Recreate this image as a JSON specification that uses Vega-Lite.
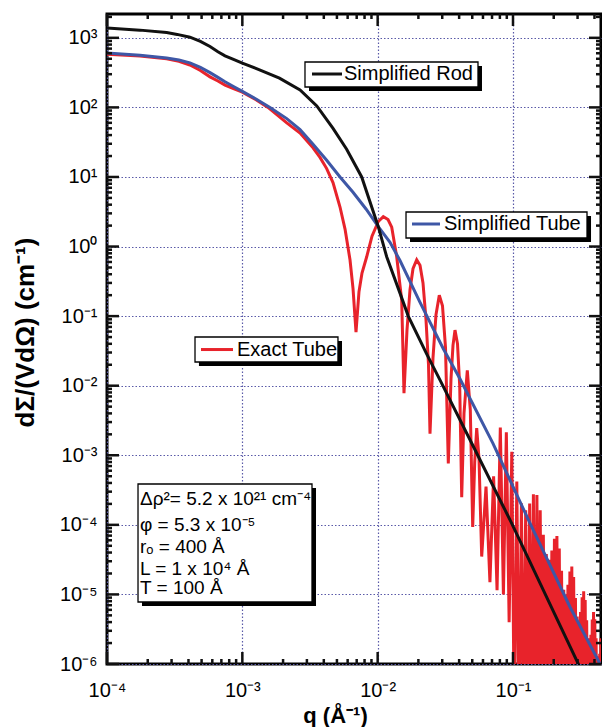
{
  "$schema": "https://vega.github.io/schema/vega-lite/v6.json",
  "width": 494,
  "height": 650,
  "autosize": "none",
  "padding": {"left": 107, "top": 14, "right": 1, "bottom": 63},
  "config": {
    "font": "Liberation Sans",
    "view": {"stroke": "black", "strokeWidth": 3},
    "axis": {"labelFont": "Liberation Sans", "titleFont": "Liberation Sans", "labelColor": "black", "titleColor": "black", "domain": false}
  },
  "datasets": {
    "exact": [
      {"q":0.0001,"I":582},{"q":0.0001754,"I":550},{"q":0.000276,"I":500},{"q":0.00034,"I":460},{"q":0.00041,"I":407},{"q":0.00049,"I":340},{"q":0.000577,"I":275},{"q":0.00066,"I":240},{"q":0.000745,"I":209},{"q":0.00086,"I":186},{"q":0.001,"I":166},{"q":0.001262,"I":129},{"q":0.001548,"I":100},{"q":0.00213,"I":60},{"q":0.00267,"I":42.7},{"q":0.00333,"I":26.3},{"q":0.003749,"I":19.1},{"q":0.0042,"I":13.2},{"q":0.004677,"I":8.3},{"q":0.00527,"I":3.7},{"q":0.00574,"I":1.78},{"q":0.006246,"I":0.645},{"q":0.006574,"I":0.25},{"q":0.006918,"I":0.059},{"q":0.007278,"I":0.224},{"q":0.00766,"I":0.417},{"q":0.008299,"I":0.713},{"q":0.009082,"I":1.41},{"q":0.010109,"I":2.29},{"q":0.011008,"I":2.69},{"q":0.011925,"I":2.45},{"q":0.012703,"I":1.9},{"q":0.013827,"I":0.713},{"q":0.015051,"I":0.17},{"q":0.015652,"I":0.0078},{"q":0.016472,"I":0.063},{"q":0.017338,"I":0.24},{"q":0.018243,"I":0.48},{"q":0.019431,"I":0.645},{"q":0.020555,"I":0.537},{"q":0.021627,"I":0.3},{"q":0.02276,"I":0.089},{"q":0.02375,"I":0.02},{"q":0.024364,"I":0.00204},{"q":0.025635,"I":0.025},{"q":0.026977,"I":0.105},{"q":0.028535,"I":0.2},{"q":0.03013,"I":0.141},{"q":0.031712,"I":0.0355},{"q":0.033266,"I":0.00076},{"q":0.034826,"I":0.0126},{"q":0.036032,"I":0.038},{"q":0.037281,"I":0.063},{"q":0.038905,"I":0.04},{"q":0.040385,"I":0.01},{"q":0.041783,"I":0.00025},{"q":0.043451,"I":0.004},{"q":0.045962,"I":0.0166},{"q":0.04837,"I":0.0045},{"q":0.050382,"I":9.3e-5},{"q":0.052128,"I":0.00079},{"q":0.053934,"I":0.00245},{"q":0.05609,"I":0.00089},{"q":0.05872,"I":3.5e-5},{"q":0.0632,"I":0.000355},{"q":0.06755,"I":1.5e-5},{"q":0.0719,"I":0.0005},{"q":0.07625,"I":1.15e-5},{"q":0.0806,"I":0.0025},{"q":0.08495,"I":1e-5},{"q":0.0893,"I":0.00214},{"q":0.09365,"I":4e-6},{"q":0.098,"I":0.00112},{"q":0.10235,"I":1e-7},{"q":0.1067,"I":0.00042},{"q":0.11105,"I":1e-7},{"q":0.1154,"I":0.000204},{"q":0.11975,"I":1e-7},{"q":0.1241,"I":0.000162},{"q":0.12845,"I":1e-7},{"q":0.1328,"I":0.000202},{"q":0.13715,"I":1e-7},{"q":0.1415,"I":0.000275},{"q":0.14585,"I":1e-7},{"q":0.1502,"I":0.000269},{"q":0.15455,"I":1e-7},{"q":0.1589,"I":0.000162},{"q":0.16325,"I":1e-7},{"q":0.1676,"I":7.2e-5},{"q":0.17195,"I":1e-7},{"q":0.1763,"I":3.8e-5},{"q":0.18065,"I":1e-7},{"q":0.185,"I":3.16e-5},{"q":0.18935,"I":1e-7},{"q":0.1937,"I":4.27e-5},{"q":0.19805,"I":1e-7},{"q":0.2024,"I":6.3e-5},{"q":0.20675,"I":1e-7},{"q":0.2111,"I":6.9e-5},{"q":0.21545,"I":1e-7},{"q":0.2198,"I":4.57e-5},{"q":0.22415,"I":1e-7},{"q":0.2285,"I":2.19e-5},{"q":0.23285,"I":1e-7},{"q":0.2372,"I":1.17e-5},{"q":0.24155,"I":1e-7},{"q":0.2459,"I":1e-5},{"q":0.25025,"I":1e-7},{"q":0.2546,"I":1.38e-5},{"q":0.25895,"I":1e-7},{"q":0.2633,"I":2.14e-5},{"q":0.26765,"I":1e-7},{"q":0.272,"I":2.51e-5},{"q":0.27635,"I":1e-7},{"q":0.2807,"I":1.78e-5},{"q":0.28505,"I":1e-7},{"q":0.2894,"I":8.9e-6},{"q":0.29375,"I":1e-7},{"q":0.2981,"I":4.8e-6},{"q":0.30245,"I":1e-7},{"q":0.3068,"I":4.07e-6},{"q":0.31115,"I":1e-7},{"q":0.3155,"I":5.6e-6},{"q":0.31985,"I":1e-7},{"q":0.3242,"I":9.1e-6},{"q":0.32855,"I":1e-7},{"q":0.3329,"I":1.11e-5},{"q":0.33725,"I":1e-7},{"q":0.3416,"I":8.3e-6},{"q":0.34595,"I":1e-7},{"q":0.3503,"I":4.27e-6},{"q":0.35465,"I":1e-7},{"q":0.359,"I":2.34e-6},{"q":0.36335,"I":1e-7},{"q":0.3677,"I":1.95e-6},{"q":0.37205,"I":1e-7},{"q":0.3764,"I":2.63e-6},{"q":0.38075,"I":1e-7},{"q":0.3851,"I":4.37e-6},{"q":0.38945,"I":1e-7},{"q":0.3938,"I":5.6e-6},{"q":0.39815,"I":1e-7},{"q":0.4025,"I":4.4e-6},{"q":0.40685,"I":1e-7},{"q":0.4112,"I":2.34e-6},{"q":0.41555,"I":1e-7},{"q":0.4199,"I":1.29e-6},{"q":0.42425,"I":1e-7},{"q":0.4286,"I":1.05e-6},{"q":0.43295,"I":1e-7},{"q":0.4373,"I":1.4e-6},{"q":0.44165,"I":1e-7},{"q":0.446,"I":2.34e-6},{"q":0.45035,"I":1e-7}
    ],
    "tube": [
      {"q":0.0001,"I":603},{"q":0.0001754,"I":562},{"q":0.000276,"I":513},{"q":0.00034,"I":480},{"q":0.00041,"I":437},{"q":0.00049,"I":376},{"q":0.000577,"I":316},{"q":0.00066,"I":270},{"q":0.000745,"I":234},{"q":0.00086,"I":200},{"q":0.001,"I":170},{"q":0.001262,"I":132},{"q":0.001601,"I":100},{"q":0.00213,"I":69},{"q":0.00267,"I":47.9},{"q":0.00333,"I":29.5},{"q":0.0042,"I":17.4},{"q":0.00527,"I":10},{"q":0.006574,"I":6.03},{"q":0.0082,"I":3.47},{"q":0.010109,"I":1.93},{"q":0.01234,"I":1.15},{"q":0.01462,"I":0.63},{"q":0.02056,"I":0.158},{"q":0.03055,"I":0.034},{"q":0.04055,"I":0.0126},{"q":0.0711,"I":0.00148},{"q":0.1337,"I":0.000105},{"q":0.2638,"I":6.6e-6},{"q":0.427,"I":1.12e-6},{"q":0.46,"I":8.3e-7}
    ],
    "rod": [
      {"q":0.0001,"I":1380},{"q":0.0001754,"I":1290},{"q":0.000276,"I":1190},{"q":0.00033,"I":1120},{"q":0.00041,"I":1020},{"q":0.00049,"I":890},{"q":0.000577,"I":750},{"q":0.00066,"I":630},{"q":0.000745,"I":550},{"q":0.00086,"I":490},{"q":0.001,"I":432},{"q":0.00134,"I":347},{"q":0.00188,"I":263},{"q":0.00267,"I":178},{"q":0.00355,"I":105},{"q":0.00468,"I":50},{"q":0.0059,"I":25},{"q":0.00762,"I":10},{"q":0.010109,"I":1.93},{"q":0.01166,"I":0.713},{"q":0.01462,"I":0.214},{"q":0.01683,"I":0.1},{"q":0.0231,"I":0.0282},{"q":0.02891,"I":0.012},{"q":0.05239,"I":0.0012},{"q":0.09782,"I":0.000105},{"q":0.2958,"I":1.12e-6},{"q":0.32,"I":8.1e-7}
    ],
    "boxes": [
      {"box":"rod","x1":0.002904,"x2":0.05513,"y1":449.2,"y2":196.5,"sx1":0.003109,"sx2":0.05901,"sy1":393.6,"sy2":172.1},
      {"box":"tube","x1":0.0162,"x2":0.3523,"y1":3.137,"y2":1.327,"sx1":0.01734,"sx2":0.3772,"sy1":2.748,"sy2":1.162},
      {"box":"exact","x1":0.000447,"x2":0.00509,"y1":0.0501,"y2":0.0219,"sx1":0.000478,"sx2":0.005452,"sy1":0.0439,"sy2":0.0192},
      {"box":"params","x1":0.0001695,"x2":0.003272,"y1":0.0003866,"y2":7.78e-6,"sx1":0.0001814,"sx2":0.003503,"sy1":0.0003385,"sy2":6.82e-6}
    ],
    "keys": [
      {"series":"Simplified Rod","q1":0.003272,"q2":0.005452,"I":302},
      {"series":"Simplified Tube","q1":0.01794,"q2":0.02888,"I":2.109},
      {"series":"Exact Tube","q1":0.000495,"q2":0.000853,"I":0.0331}
    ],
    "legendText": [
      {"q":0.00564,"I":247.6,"text":"Simplified Rod"},
      {"q":0.03092,"I":1.729,"text":"Simplified Tube"},
      {"q":0.000913,"I":0.02673,"text":"Exact Tube"}
    ],
    "paramText": [
      {"q":0.0001753,"I":0.0001929,"text":"Δρ²= 5.2 x 10²¹ cm⁻⁴"},
      {"q":0.0001753,"I":8.16e-5,"text":"φ = 5.3 x 10⁻⁵"},
      {"q":0.0001753,"I":3.94e-5,"text":"rₒ = 400 Å"},
      {"q":0.0001753,"I":1.902e-5,"text":"L  = 1 x 10⁴ Å"},
      {"q":0.0001753,"I":1.014e-5,"text":"T = 100 Å"}
    ],
    "xmajor": [{"v":0.0001},{"v":0.001},{"v":0.01},{"v":0.1}],
    "xminor": [{"v":0.0002},{"v":0.0003},{"v":0.0004},{"v":0.0005},{"v":0.0006},{"v":0.0007},{"v":0.0008},{"v":0.0009},{"v":0.002},{"v":0.003},{"v":0.004},{"v":0.005},{"v":0.006},{"v":0.007},{"v":0.008},{"v":0.009},{"v":0.02},{"v":0.03},{"v":0.04},{"v":0.05},{"v":0.06},{"v":0.07},{"v":0.08},{"v":0.09},{"v":0.2},{"v":0.3},{"v":0.4}],
    "ymajor": [{"v":1e-6},{"v":1e-5},{"v":0.0001},{"v":0.001},{"v":0.01},{"v":0.1},{"v":1},{"v":10},{"v":100},{"v":1000}],
    "yminor": [{"v":2e-6},{"v":3e-6},{"v":4e-6},{"v":5e-6},{"v":6e-6},{"v":7e-6},{"v":8e-6},{"v":9e-6},{"v":2e-5},{"v":3e-5},{"v":4e-5},{"v":5e-5},{"v":6e-5},{"v":7e-5},{"v":8e-5},{"v":9e-5},{"v":0.0002},{"v":0.0003},{"v":0.0004},{"v":0.0005},{"v":0.0006},{"v":0.0007},{"v":0.0008},{"v":0.0009},{"v":0.002},{"v":0.003},{"v":0.004},{"v":0.005},{"v":0.006},{"v":0.007},{"v":0.008},{"v":0.009},{"v":0.02},{"v":0.03},{"v":0.04},{"v":0.05},{"v":0.06},{"v":0.07},{"v":0.08},{"v":0.09},{"v":0.2},{"v":0.3},{"v":0.4},{"v":0.5},{"v":0.6},{"v":0.7},{"v":0.8},{"v":0.9},{"v":2},{"v":3},{"v":4},{"v":5},{"v":6},{"v":7},{"v":8},{"v":9},{"v":20},{"v":30},{"v":40},{"v":50},{"v":60},{"v":70},{"v":80},{"v":90},{"v":200},{"v":300},{"v":400},{"v":500},{"v":600},{"v":700},{"v":800},{"v":900},{"v":2000}]
  },
  "layer": [
    {
      "data": {"name": "exact"},
      "mark": {"type": "line", "color": "#e8232b", "strokeWidth": 3, "clip": true},
      "encoding": {
        "x": {"field": "q", "type": "quantitative", "scale": {"type": "log", "domain": [0.0001, 0.447], "nice": false},
          "axis": {
            "orient": "bottom",
            "values": [0.0001, 0.001, 0.01, 0.1],
            "labelExpr": "['10⁻⁴','10⁻³','10⁻²','10⁻¹'][round(log(datum.value)/LN10)+4]",
            "labelFontSize": 20, "labelOverlap": false, "labelFlush": false, "labelBound": false,
            "labelPadding": 16, "labelBaseline": "top", "ticks": false,
            "grid": true, "gridColor": "#5a5aa8", "gridDash": [1.5, 2], "gridWidth": 1.2,
            "title": "q (Å⁻¹)", "titleFontSize": 22, "titleFontWeight": "bold",
            "titleX": 228, "titleY": 58, "titleBaseline": "alphabetic", "titleAlign": "center"
          }
        },
        "y": {"field": "I", "type": "quantitative", "scale": {"type": "log", "domain": [1e-6, 2200], "nice": false},
          "axis": {
            "orient": "left",
            "values": [1e-6, 1e-5, 0.0001, 0.001, 0.01, 0.1, 1, 10, 100, 1000],
            "labelExpr": "['10⁻⁶','10⁻⁵','10⁻⁴','10⁻³','10⁻²','10⁻¹','10⁰','10¹','10²','10³'][round(log(datum.value)/LN10)+6]",
            "labelFontSize": 20, "labelOverlap": false, "labelFlush": false, "labelBound": false,
            "labelPadding": 10, "labelAlign": "right", "labelBaseline": "middle", "ticks": false,
            "grid": true, "gridColor": "#5a5aa8", "gridDash": [1.5, 2], "gridWidth": 1.2,
            "title": "dΣ/(VdΩ) (cm⁻¹)", "titleFontSize": 26, "titleFontWeight": "bold",
            "titleAngle": 270, "titleX": -74, "titleY": 318, "titleBaseline": "alphabetic", "titleAlign": "center"
          }
        }
      }
    },
    {
      "data": {"name": "tube"},
      "mark": {"type": "line", "color": "#3e57a6", "strokeWidth": 3, "clip": true},
      "encoding": {
        "x": {"field": "q", "type": "quantitative", "scale": {"type": "log", "domain": [0.0001, 0.447], "nice": false}, "axis": null},
        "y": {"field": "I", "type": "quantitative", "scale": {"type": "log", "domain": [1e-6, 2200], "nice": false}, "axis": null}
      }
    },
    {
      "data": {"name": "rod"},
      "mark": {"type": "line", "color": "#111111", "strokeWidth": 3, "clip": true},
      "encoding": {
        "x": {"field": "q", "type": "quantitative", "scale": {"type": "log", "domain": [0.0001, 0.447], "nice": false}, "axis": null},
        "y": {"field": "I", "type": "quantitative", "scale": {"type": "log", "domain": [1e-6, 2200], "nice": false}, "axis": null}
      }
    },
    {
      "data": {"name": "boxes"},
      "mark": {"type": "rect", "fill": "black"},
      "encoding": {
        "x": {"field": "sx1", "type": "quantitative", "scale": {"type": "log", "domain": [0.0001, 0.447], "nice": false}, "axis": null},
        "x2": {"field": "sx2"},
        "y": {"field": "sy1", "type": "quantitative", "scale": {"type": "log", "domain": [1e-6, 2200], "nice": false}, "axis": null},
        "y2": {"field": "sy2"}
      }
    },
    {
      "data": {"name": "boxes"},
      "mark": {"type": "rect", "fill": "white", "stroke": "black", "strokeWidth": 1.3},
      "encoding": {
        "x": {"field": "x1", "type": "quantitative", "scale": {"type": "log", "domain": [0.0001, 0.447], "nice": false}, "axis": null},
        "x2": {"field": "x2"},
        "y": {"field": "y1", "type": "quantitative", "scale": {"type": "log", "domain": [1e-6, 2200], "nice": false}, "axis": null},
        "y2": {"field": "y2"}
      }
    },
    {
      "data": {"name": "keys"},
      "mark": {"type": "rule", "strokeWidth": 3},
      "encoding": {
        "x": {"field": "q1", "type": "quantitative", "scale": {"type": "log", "domain": [0.0001, 0.447], "nice": false}, "axis": null},
        "x2": {"field": "q2"},
        "y": {"field": "I", "type": "quantitative", "scale": {"type": "log", "domain": [1e-6, 2200], "nice": false}, "axis": null},
        "color": {"field": "series", "type": "nominal", "scale": {"domain": ["Simplified Rod", "Simplified Tube", "Exact Tube"], "range": ["#111111", "#3e57a6", "#e8232b"]}, "legend": null}
      }
    },
    {
      "data": {"name": "legendText"},
      "mark": {"type": "text", "align": "left", "baseline": "alphabetic", "color": "black", "font": "Liberation Sans", "fontSize": 20},
      "encoding": {
        "x": {"field": "q", "type": "quantitative", "scale": {"type": "log", "domain": [0.0001, 0.447], "nice": false}, "axis": null},
        "y": {"field": "I", "type": "quantitative", "scale": {"type": "log", "domain": [1e-6, 2200], "nice": false}, "axis": null},
        "text": {"field": "text"}
      }
    },
    {
      "data": {"name": "paramText"},
      "mark": {"type": "text", "align": "left", "baseline": "alphabetic", "color": "black", "font": "Liberation Sans", "fontSize": 19},
      "encoding": {
        "x": {"field": "q", "type": "quantitative", "scale": {"type": "log", "domain": [0.0001, 0.447], "nice": false}, "axis": null},
        "y": {"field": "I", "type": "quantitative", "scale": {"type": "log", "domain": [1e-6, 2200], "nice": false}, "axis": null},
        "text": {"field": "text"}
      }
    },
    {
      "data": {"name": "xmajor"},
      "mark": {"type": "rule", "color": "#111111", "strokeWidth": 2.5},
      "encoding": {
        "x": {"field": "v", "type": "quantitative", "scale": {"type": "log", "domain": [0.0001, 0.447], "nice": false}, "axis": null},
        "y": {"datum": 1e-6, "type": "quantitative", "scale": {"type": "log", "domain": [1e-6, 2200], "nice": false}, "axis": null},
        "y2": {"datum": 1.4873e-6}
      }
    },
    {
      "data": {"name": "xminor"},
      "mark": {"type": "rule", "color": "#111111", "strokeWidth": 2.5},
      "encoding": {
        "x": {"field": "v", "type": "quantitative", "scale": {"type": "log", "domain": [0.0001, 0.447], "nice": false}, "axis": null},
        "y": {"datum": 1e-6, "type": "quantitative", "scale": {"type": "log", "domain": [1e-6, 2200], "nice": false}, "axis": null},
        "y2": {"datum": 1.18e-6}
      }
    },
    {
      "data": {"name": "xmajor"},
      "mark": {"type": "rule", "color": "#111111", "strokeWidth": 2.5},
      "encoding": {
        "x": {"field": "v", "type": "quantitative", "scale": {"type": "log", "domain": [0.0001, 0.447], "nice": false}, "axis": null},
        "y": {"datum": 2200, "type": "quantitative", "scale": {"type": "log", "domain": [1e-6, 2200], "nice": false}, "axis": null},
        "y2": {"datum": 1479.2}
      }
    },
    {
      "data": {"name": "xminor"},
      "mark": {"type": "rule", "color": "#111111", "strokeWidth": 2.5},
      "encoding": {
        "x": {"field": "v", "type": "quantitative", "scale": {"type": "log", "domain": [0.0001, 0.447], "nice": false}, "axis": null},
        "y": {"datum": 2200, "type": "quantitative", "scale": {"type": "log", "domain": [1e-6, 2200], "nice": false}, "axis": null},
        "y2": {"datum": 1864.4}
      }
    },
    {
      "data": {"name": "ymajor"},
      "mark": {"type": "rule", "color": "#111111", "strokeWidth": 2.5},
      "encoding": {
        "y": {"field": "v", "type": "quantitative", "scale": {"type": "log", "domain": [1e-6, 2200], "nice": false}, "axis": null},
        "x": {"datum": 0.0001, "type": "quantitative", "scale": {"type": "log", "domain": [0.0001, 0.447], "nice": false}, "axis": null},
        "x2": {"datum": 0.00012266}
      }
    },
    {
      "data": {"name": "yminor"},
      "mark": {"type": "rule", "color": "#111111", "strokeWidth": 2.5},
      "encoding": {
        "y": {"field": "v", "type": "quantitative", "scale": {"type": "log", "domain": [1e-6, 2200], "nice": false}, "axis": null},
        "x": {"datum": 0.0001, "type": "quantitative", "scale": {"type": "log", "domain": [0.0001, 0.447], "nice": false}, "axis": null},
        "x2": {"datum": 0.00010888}
      }
    },
    {
      "data": {"name": "ymajor"},
      "mark": {"type": "rule", "color": "#111111", "strokeWidth": 2.5},
      "encoding": {
        "y": {"field": "v", "type": "quantitative", "scale": {"type": "log", "domain": [1e-6, 2200], "nice": false}, "axis": null},
        "x": {"datum": 0.447, "type": "quantitative", "scale": {"type": "log", "domain": [0.0001, 0.447], "nice": false}, "axis": null},
        "x2": {"datum": 0.36443}
      }
    },
    {
      "data": {"name": "yminor"},
      "mark": {"type": "rule", "color": "#111111", "strokeWidth": 2.5},
      "encoding": {
        "y": {"field": "v", "type": "quantitative", "scale": {"type": "log", "domain": [1e-6, 2200], "nice": false}, "axis": null},
        "x": {"datum": 0.447, "type": "quantitative", "scale": {"type": "log", "domain": [0.0001, 0.447], "nice": false}, "axis": null},
        "x2": {"datum": 0.41054}
      }
    }
  ],
  "resolve": {"axis": {"x": "independent", "y": "independent"}}
}
